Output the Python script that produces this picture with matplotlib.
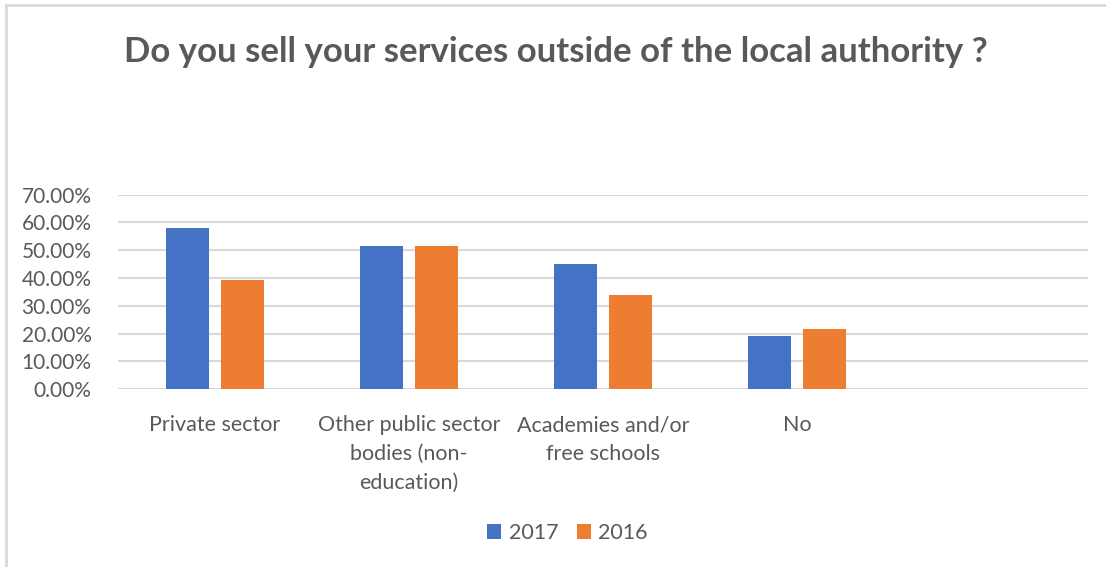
import numpy as np
import matplotlib
matplotlib.use("Agg")
import matplotlib.pyplot as plt
from matplotlib.lines import Line2D
from matplotlib.ticker import PercentFormatter

categories = ["Private sector",
              "Other public sector\nbodies (non-\neducation)",
              "Academies and/or\nfree schools",
              "No",
              ""]
values_2017 = [57.9, 51.5, 45.0, 19.2, np.nan]
values_2016 = [39.1, 51.5, 34.0, 21.5, np.nan]

blue = "#4472C4"
orange = "#ED7D31"
text_grey = "#595959"
grid_grey = "#D9D9D9"

plt.rcParams["font.family"] = ["Lato", "DejaVu Sans"]

fig = plt.figure(figsize=(11.06, 5.67), dpi=100)
ax = fig.add_axes([0.1067, 0.3139, 0.877, 0.3427])

x = np.arange(len(categories))
w = 0.222
off = 0.142
ax.bar(x - off, values_2017, w, color=blue, label="2017", zorder=3)
ax.bar(x + off, values_2016, w, color=orange, label="2016", zorder=3)

ax.set_xlim(-0.5, len(categories) - 0.5)
ax.set_ylim(0, 70)
ax.set_yticks(np.arange(0, 71, 10))
ax.yaxis.set_major_formatter(PercentFormatter(decimals=2))
ax.grid(axis="y", color=grid_grey, linewidth=1.5, zorder=0)

ax.set_xticks(x)
ax.set_xticklabels(categories, fontsize=15.5, color=text_grey, va="top", linespacing=1.55)
ax.tick_params(axis="x", length=0, pad=19)
ax.tick_params(axis="y", length=0, pad=19, labelsize=15, labelcolor=text_grey)
for s in ax.spines.values():
    s.set_visible(False)

fig.suptitle("Do you sell your services outside of the local authority ?",
             x=0.503, y=0.937, fontsize=25, fontweight="bold", color=text_grey)

fig.legend(loc="center", bbox_to_anchor=(0.513, 0.06), ncol=2, frameon=False,
           fontsize=15.5, labelcolor=text_grey, handlelength=0.65, handleheight=0.65,
           handletextpad=0.35, columnspacing=0.85)

# chart frame along the top and left edges
fig.add_artist(Line2D([0.005, 0.005], [0, 0.991], transform=fig.transFigure,
                      color=grid_grey, linewidth=2))
fig.add_artist(Line2D([0.005, 1.0], [0.991, 0.991], transform=fig.transFigure,
                      color=grid_grey, linewidth=2))

fig.savefig("out.png", dpi=100)
